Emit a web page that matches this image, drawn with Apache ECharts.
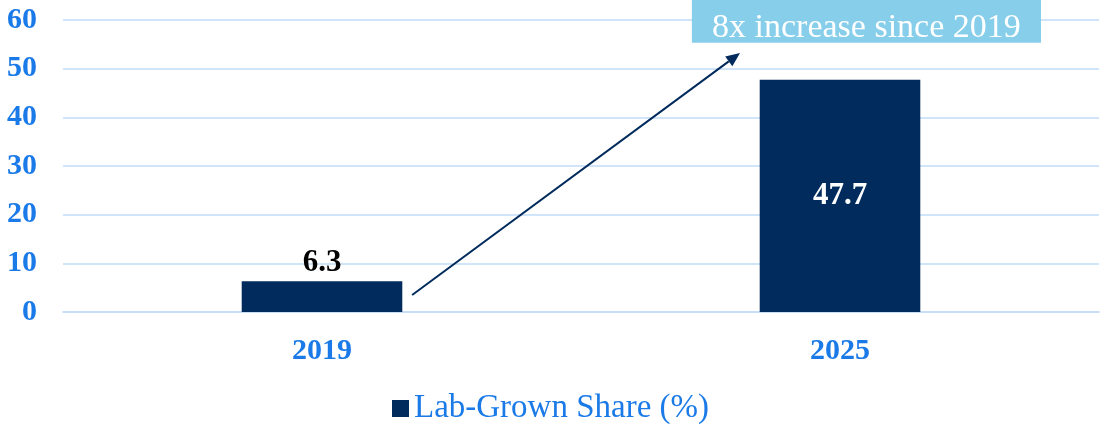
<!DOCTYPE html>
<html>
<head>
<meta charset="utf-8">
<script src="https://cdn.jsdelivr.net/npm/echarts@6/dist/echarts.min.js"></script>
<style>
  html, body { margin: 0; padding: 0; background: #ffffff; }
  #chart { width: 1101px; height: 424px; }
</style>
</head>
<body>
<div id="chart"></div>
<script>
// Lab-grown share by year
const years = ['2019', '2025'];
const shareValues = [6.3, 47.7];
const yTicks = [0, 10, 20, 30, 40, 50, 60];
const seriesName = 'Lab-Grown Share (%)';
const calloutText = '8x increase since 2019';

const FONT = '"Liberation Serif", "DejaVu Serif", serif';
const NAVY = '#002b5c';
const BLUE = '#1a7ae8';
const GRID = '#c2dcf8';

const chart = echarts.init(document.getElementById('chart'));

chart.setOption({
  animation: false,
  grid: { left: 63, right: 2, top: 20, bottom: 112 },
  legend: {
    bottom: -6,
    left: 'center',
    data: [seriesName],
    icon: 'rect',
    itemWidth: 17,
    itemHeight: 17,
    itemGap: 8,
    textStyle: { color: BLUE, fontFamily: FONT, fontSize: 33, fontWeight: 'normal' }
  },
  xAxis: {
    type: 'category',
    data: years,
    axisLine: { lineStyle: { color: GRID, width: 1.5 } },
    axisTick: { show: false },
    axisLabel: { color: BLUE, fontFamily: FONT, fontSize: 30, fontWeight: 'bold', margin: 24 }
  },
  yAxis: {
    type: 'value',
    min: yTicks[0],
    max: yTicks[yTicks.length - 1],
    interval: 10,
    axisLine: { show: false },
    axisTick: { show: false },
    splitLine: { lineStyle: { color: GRID, width: 1.5 } },
    axisLabel: { color: BLUE, fontFamily: FONT, fontSize: 30, fontWeight: 'bold', margin: 26 }
  },
  series: [{
    name: seriesName,
    type: 'bar',
    data: shareValues.map((v, i) => ({
      value: v,
      label: i === 0
        ? { show: true, position: 'top', color: '#000000', distance: 3 }
        : { show: true, position: 'inside', color: '#ffffff' }
    })),
    barWidth: '31%',
    itemStyle: { color: NAVY },
    label: { fontFamily: FONT, fontSize: 31, fontWeight: 'bold' }
  }]
});

// Growth arrow and callout, placed relative to the axis scales
function drawCallout() {
  const c0 = chart.convertToPixel({ xAxisIndex: 0 }, years[0]);
  const c1 = chart.convertToPixel({ xAxisIndex: 0 }, years[1]);
  const band = c1 - c0;
  const yStart = chart.convertToPixel({ yAxisIndex: 0 }, 3.5);
  const yEnd = chart.convertToPixel({ yAxisIndex: 0 }, 53.2);
  const boxTop = chart.convertToPixel({ yAxisIndex: 0 }, 64.1);
  const boxBottom = chart.convertToPixel({ yAxisIndex: 0 }, 55.3);
  const x1 = c0 + band * 0.174;
  const x2 = c0 + band * 0.807;
  const boxLeft = c1 - band * 0.286;
  const boxRight = c1 + band * 0.388;

  const ang = Math.atan2(yEnd - yStart, x2 - x1);
  const headLen = 14, headW = 6;
  const bx = x2 - headLen * Math.cos(ang), by = yEnd - headLen * Math.sin(ang);
  const px = -Math.sin(ang) * headW, py = Math.cos(ang) * headW;

  chart.setOption({
    graphic: [
      {
        type: 'line',
        shape: { x1: x1, y1: yStart, x2: bx, y2: by },
        style: { stroke: NAVY, lineWidth: 2 },
        z: 10
      },
      {
        type: 'polygon',
        shape: { points: [[x2, yEnd], [bx + px, by + py], [bx - px, by - py]] },
        style: { fill: NAVY },
        z: 10
      },
      {
        type: 'rect',
        shape: { x: boxLeft, y: boxTop, width: boxRight - boxLeft, height: boxBottom - boxTop },
        style: { fill: '#87ceeb' },
        z: 10
      },
      {
        type: 'text',
        x: (boxLeft + boxRight) / 2,
        y: (boxTop + boxBottom) / 2 + 7,
        style: {
          text: calloutText,
          fill: '#ffffff',
          font: 'normal 34px ' + FONT,
          align: 'center',
          verticalAlign: 'middle'
        },
        z: 11
      }
    ]
  });
}
drawCallout();
</script>
</body>
</html>
